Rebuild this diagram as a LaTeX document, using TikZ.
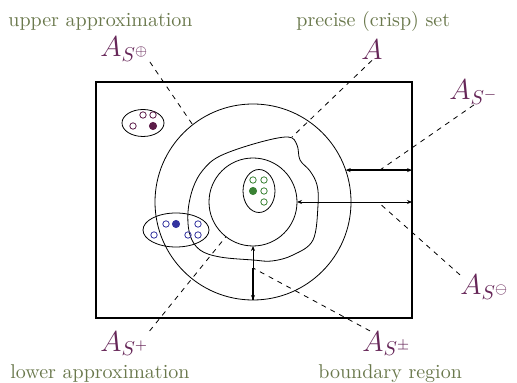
\documentclass[tikz,border=0pt]{standalone}
\usepackage{amsmath}
\usepackage{amssymb}
\usepackage{xcolor}
\usepackage{tikz}
\usetikzlibrary{arrows.meta, shapes.geometric}

\definecolor{setlabel}{RGB}{102,38,88}
\definecolor{regiontext}{RGB}{106,120,76}
\definecolor{dotgreen}{RGB}{58,130,52}
\definecolor{dotblue}{RGB}{52,52,160}
\definecolor{dotplum}{RGB}{92,28,72}

\begin{document}
\begin{tikzpicture}[x=0.5pt, y=-0.5pt,
  region/.style={circle, draw=black, inner sep=0pt, outer sep=0pt},
  granule/.style={ellipse, draw=black, inner sep=0pt, outer sep=0pt},
  elem/.style={circle, draw=#1, inner sep=0pt, minimum size=3.2pt},
  elemfill/.style={circle, draw=#1, fill=#1, inner sep=0pt, minimum size=3.6pt},
  setname/.style={anchor=base west, inner sep=0pt, text=setlabel, font=\Large},
  regionname/.style={anchor=base west, inner sep=0pt, text=regiontext},
  leader/.style={dash pattern=on 2.5pt off 2.5pt},
  measure/.style={{Stealth[length=2.5pt, width=2pt]}-{Stealth[length=2.5pt, width=2pt]}}]
\useasboundingbox (0,0) rectangle (517,383);
% universe and approximations
\node[draw=black, line width=1pt, inner sep=0pt, outer sep=0pt, minimum width=158pt, minimum height=118pt] (universe) at (254,200) {};
\node[region, minimum size=98pt] (outer) at (253,202) {};
\node[region, minimum size=44pt] (inner) at (253,202) {};
\draw[tension=0.6] plot[smooth cycle] coordinates {(220,156) (257,143) (288,137) (297,145) (300,160) (310,171) (317,185) (318,205) (313,240) (293,255) (272,261) (253,260) (220,257) (200,250) (190,235) (188,212) (193,188) (203,170)};
% granules
\node[granule, minimum width=21pt, minimum height=13.5pt] (gplum) at (143,123) {};
\node[granule, minimum width=33pt, minimum height=17pt] (gblue) at (176,230) {};
\node[granule, minimum width=16pt, minimum height=21.5pt] (ggreen) at (259,191) {};
\node[elem=dotplum] (p1) at (143,115) {};
\node[elem=dotplum] (p2) at (153,115) {};
\node[elem=dotplum] (p3) at (133,126) {};
\node[elemfill=dotplum] (p4) at (153,126) {};
\node[elem=dotblue] (b1) at (166,224) {};
\node[elemfill=dotblue] (b2) at (176,224) {};
\node[elem=dotblue] (b3) at (198,224) {};
\node[elem=dotblue] (b4) at (154,235) {};
\node[elem=dotblue] (b5) at (188,235) {};
\node[elem=dotblue] (b6) at (198,235) {};
\node[elem=dotgreen] (g1) at (253,180) {};
\node[elem=dotgreen] (g2) at (264,180) {};
\node[elemfill=dotgreen] (g3) at (253,191) {};
\node[elem=dotgreen] (g4) at (264,191) {};
\node[elem=dotgreen] (g5) at (264,202) {};
% distances
\coordinate (crisptop) at (292,137);
\coordinate (minusmid) at (380,170);
\coordinate (ominusmid) at (378,202);
\coordinate (bndmid) at (253,268);
\draw[measure] (inner.east) -- (inner.east -| universe.east);
\draw[measure, line width=1pt] (outer.19) -- (outer.19 -| universe.east);
\draw[measure] (inner.south) -- (outer.south);
\draw[line width=1pt] (bndmid) -- (outer.south);
% labels
\node[regionname] (upname) at (8,27) {upper approximation};
\node[regionname] (crispname) at (296,27) {precise (crisp) set};
\node[regionname] (lowname) at (10,378) {lower approximation};
\node[regionname] (bndname) at (318,378) {boundary region};
\node[setname] (uplbl) at (100,57) {$A_{S^\oplus}$};
\node[setname] (crisplbl) at (361,60) {$A$};
\node[setname] (minuslbl) at (449,100) {$A_{S^-}$};
\node[setname] (ominuslbl) at (460,295) {$A_{S^\ominus}$};
\node[setname] (pluslbl) at (100,351) {$A_{S^+}$};
\node[setname] (pmlbl) at (362,351) {$A_{S^\pm}$};
\draw[leader] (uplbl.south east) -- (outer.128);
\draw[leader] (crisplbl.south) -- (crisptop);
\draw[leader] (minuslbl.south) -- (minusmid);
\draw[leader] (ominuslbl.north west) -- (ominusmid);
\draw[leader] (pluslbl.north east) -- (inner.232);
\draw[leader] ([xshift=4pt]pmlbl.north west) -- (bndmid);
\end{tikzpicture}
\end{document}
